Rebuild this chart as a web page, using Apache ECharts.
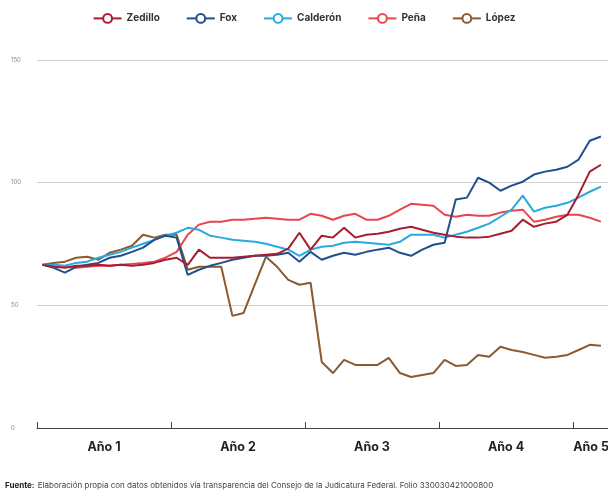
<!DOCTYPE html>
<html>
<head>
<meta charset="utf-8">
<script src="https://cdn.jsdelivr.net/npm/echarts@6/dist/echarts.min.js"></script>
<style>
html,body{margin:0;padding:0;background:#fff;}
#chart{width:608px;height:495px;}
</style>
</head>
<body>
<div id="chart"></div>
<script>
const yearLabels = ['Año 1', 'Año 2', 'Año 3', 'Año 4', 'Año 5'];
const yTicks = [0, 50, 100, 150];
const months = [0.5,1.5,2.5,3.5,4.5,5.5,6.5,7.5,8.5,9.5,10.5,11.5,12.5,13.5,14.5,15.5,16.5,17.5,18.5,19.5,20.5,21.5,22.5,23.5,24.5,25.5,26.5,27.5,28.5,29.5,30.5,31.5,32.5,33.5,34.5,35.5,36.5,37.5,38.5,39.5,40.5,41.5,42.5,43.5,44.5,45.5,46.5,47.5,48.5,49.5,50.5];

const zedillo = [66.5,65.7,65.3,66.1,66.1,66.5,66.1,66.5,66.1,66.5,67.3,68.6,69.4,66.5,72.7,69.4,69.4,69.4,69.8,70.2,70.6,71.0,73.1,79.6,72.7,78.4,77.6,81.6,77.6,78.8,79.2,80.0,81.2,82.0,80.8,79.6,78.8,78.0,77.6,77.6,78.0,79.2,80.4,84.9,82.0,83.3,84.1,86.9,95.1,104.5,107.3];
const fox = [66.5,65.3,63.3,65.7,66.5,67.3,69.4,70.2,71.8,73.5,76.7,78.4,77.6,62.4,64.5,66.1,67.3,68.6,69.4,70.2,70.2,70.6,71.4,67.8,71.8,68.6,70.2,71.4,70.6,71.8,72.7,73.5,71.4,70.2,72.7,74.7,75.5,93.1,93.9,102.0,100.0,96.7,98.8,100.4,103.3,104.5,105.3,106.5,109.4,117.1,118.8];
const calderon = [66.5,66.5,66.1,67.3,67.8,69.4,70.6,71.8,73.5,75.1,76.7,78.4,79.6,81.6,80.8,78.4,77.6,76.7,76.3,75.9,75.1,73.9,72.7,70.2,72.7,73.9,74.3,75.5,75.9,75.5,75.1,74.7,75.9,78.8,78.8,78.8,77.6,78.8,80.0,81.6,83.3,86.1,89.0,94.7,88.2,89.8,90.6,91.8,93.9,96.3,98.4];
const pena = [66.5,66.1,65.7,65.3,65.7,66.1,66.1,66.5,66.9,67.3,67.8,69.4,71.8,78.8,82.9,84.1,84.1,84.9,84.9,85.3,85.7,85.3,84.9,84.9,87.3,86.5,84.9,86.5,87.3,84.9,84.9,86.5,89.0,91.4,91.0,90.6,86.9,86.1,86.9,86.5,86.5,87.8,88.6,89.0,84.1,84.9,86.1,86.9,86.9,85.7,84.1];
const lopez = [66.5,67.3,67.8,69.4,69.8,68.6,71.4,72.7,74.3,78.8,77.6,78.8,78.8,64.5,65.7,65.7,65.7,45.7,46.9,58.4,69.8,65.7,60.4,58.4,59.2,26.9,22.4,27.8,25.7,25.7,25.7,28.6,22.4,20.8,21.6,22.4,27.8,25.3,25.7,29.8,29.0,33.1,31.8,31.0,29.8,28.6,29.0,29.8,31.8,33.9,33.5];

const seriesNames = ['Zedillo', 'Fox', 'Calderón', 'Peña', 'López'];
const seriesValues = [zedillo, fox, calderon, pena, lopez];
const colors = ['#a71d31', '#1e4f8e', '#2aa9de', '#e8454f', '#8a5a30'];

const chart = echarts.init(document.getElementById('chart'), null, {renderer: 'canvas'});
const FONT = 'Inter, "Liberation Sans", sans-serif';

const series = seriesNames.map((name, k) => ({
  name: name,
  type: 'line',
  xAxisIndex: 1,
  symbol: 'emptyCircle',
  symbolSize: 8,
  showSymbol: false,
  lineStyle: {width: 2, color: colors[k]},
  itemStyle: {color: colors[k], borderWidth: 2.5},
  emphasis: {disabled: true},
  z: 10 - k,
  data: months.map((m, i) => [m, seriesValues[k][i]])
}));

const labelStyle = {fontFamily: FONT, fontSize: 12.5, fontWeight: 'bold', color: '#222'};

chart.setOption({
  animation: false,
  color: colors,
  legend: {
    top: 8,
    left: 'center',
    itemWidth: 28,
    itemHeight: 11,
    itemGap: 26,
    textStyle: {fontFamily: FONT, fontSize: 10, fontWeight: 'bold', color: '#333'},
    data: seriesNames
  },
  grid: {left: 37, top: 60, width: 670, bottom: 67, outerBoundsMode: 'none', containLabel: false},
  xAxis: [
    {
      type: 'category',
      data: yearLabels,
      boundaryGap: true,
      axisLine: {lineStyle: {color: '#444', width: 1}},
      axisTick: {show: true, inside: true, length: 6, alignWithLabel: false, lineStyle: {color: '#444'}},
      axisLabel: {
        interval: 0,
        margin: 13,
        ...labelStyle,
        formatter: (v, idx) => idx === yearLabels.length - 1 ? '{last|' + v + '}' : v,
        rich: {
          last: {...labelStyle, padding: [0, 98, 0, 0]}
        }
      },
      splitLine: {show: false}
    },
    {
      type: 'value',
      min: 0,
      max: 60,
      show: false
    }
  ],
  yAxis: {
    type: 'value',
    min: yTicks[0],
    max: yTicks[yTicks.length - 1],
    interval: 50,
    axisLine: {show: false},
    axisTick: {show: false},
    axisLabel: {fontFamily: FONT, fontSize: 6, color: '#888', margin: 16, align: 'left', padding: [0,0,0,-10]},
    splitLine: {lineStyle: {color: '#cfcfcf', width: 1}}
  },
  graphic: [{
    type: 'text',
    left: 5,
    top: 480,
    style: {
      rich: {
        b: {fontFamily: FONT, fontSize: 8, fontWeight: 'bold', fill: '#222'},
        n: {fontFamily: FONT, fontSize: 8, fill: '#444'}
      },
      text: '{b|Fuente:} {n|Elaboración propia con datos obtenidos vía transparencia del Consejo de la Judicatura Federal. Folio 330030421000800}'
    }
  }],
  series: series
});
</script>
</body>
</html>
